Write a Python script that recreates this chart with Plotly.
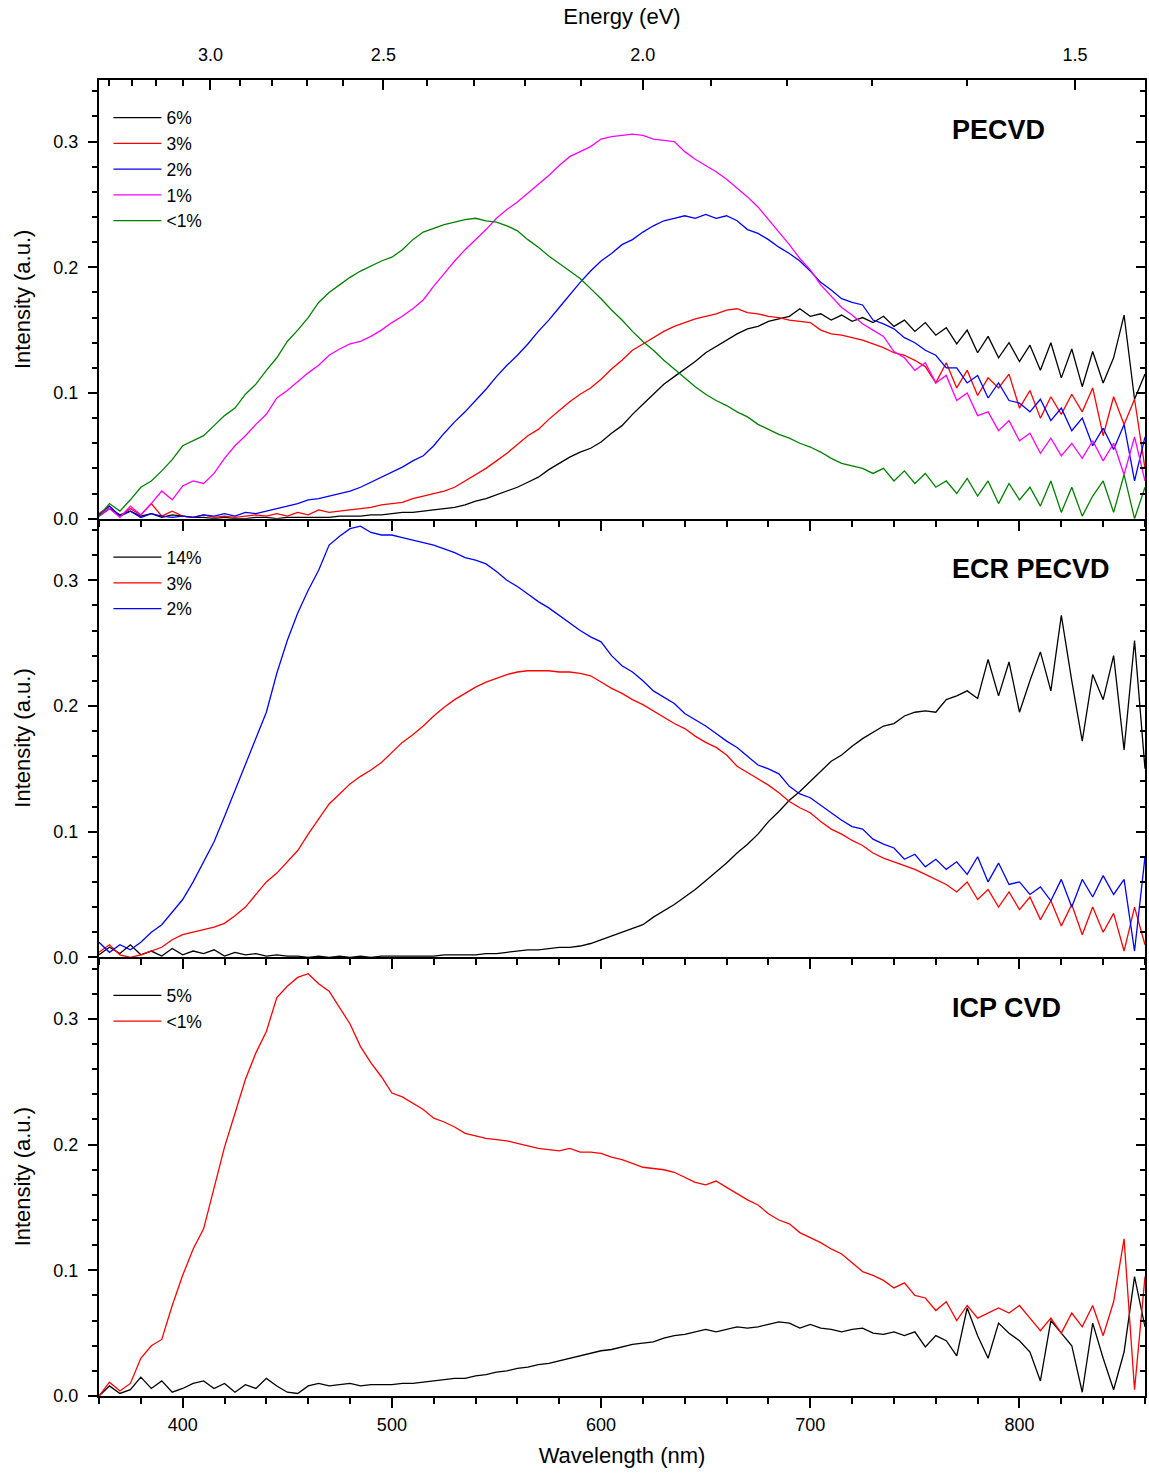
import plotly.graph_objects as go

# ---------------- data ----------------
WAVELENGTH = list(range(360, 865, 5))  # nm, sampling grid

# PECVD panel
PE_6 = [0.002,0.008,0.003,0.006,0.002,0.004,0.001,0.003,0.002,0.001,
        0.001,0.000,0.001,0.000,0.000,0.001,0.001,0.000,0.001,0.001,
        0.001,0.001,0.001,0.002,0.002,0.002,0.003,0.003,0.004,0.005,
        0.005,0.006,0.007,0.008,0.009,0.011,0.014,0.016,0.019,0.022,
        0.025,0.029,0.033,0.039,0.044,0.049,0.053,0.056,0.061,0.068,
        0.074,0.083,0.091,0.099,0.107,0.113,0.119,0.125,0.132,0.137,
        0.142,0.147,0.151,0.153,0.157,0.159,0.161,0.167,0.161,0.163,
        0.158,0.162,0.157,0.160,0.156,0.161,0.153,0.158,0.149,0.156,
        0.146,0.152,0.139,0.150,0.132,0.145,0.128,0.140,0.125,0.138,
        0.118,0.140,0.112,0.135,0.105,0.133,0.108,0.128,0.162,0.095,
        0.115]
PE_3 = [0.004,0.010,0.002,0.008,0.003,0.012,0.002,0.006,0.002,0.001,
        0.003,0.001,0.002,0.001,0.002,0.003,0.002,0.004,0.002,0.005,
        0.003,0.007,0.005,0.006,0.007,0.008,0.009,0.011,0.012,0.013,
        0.016,0.018,0.020,0.022,0.025,0.030,0.035,0.040,0.046,0.052,
        0.059,0.066,0.071,0.079,0.086,0.093,0.099,0.104,0.111,0.119,
        0.126,0.134,0.139,0.144,0.149,0.153,0.156,0.159,0.161,0.163,
        0.166,0.167,0.164,0.163,0.161,0.160,0.158,0.157,0.156,0.150,
        0.147,0.146,0.144,0.142,0.139,0.136,0.132,0.130,0.126,0.121,
        0.108,0.124,0.104,0.118,0.098,0.112,0.104,0.115,0.088,0.102,
        0.080,0.097,0.083,0.099,0.085,0.104,0.066,0.097,0.075,0.095,
        0.040]
PE_2 = [0.003,0.010,0.002,0.006,0.001,0.004,0.002,0.001,0.002,0.001,
        0.003,0.002,0.004,0.002,0.005,0.004,0.006,0.008,0.010,0.012,
        0.015,0.016,0.018,0.020,0.022,0.025,0.029,0.033,0.037,0.041,
        0.046,0.050,0.058,0.068,0.077,0.085,0.094,0.103,0.113,0.122,
        0.130,0.139,0.149,0.158,0.168,0.178,0.188,0.197,0.205,0.211,
        0.218,0.222,0.228,0.233,0.237,0.239,0.241,0.239,0.242,0.239,
        0.241,0.237,0.230,0.227,0.222,0.216,0.211,0.205,0.197,0.188,
        0.182,0.175,0.172,0.170,0.158,0.155,0.151,0.144,0.140,0.134,
        0.130,0.120,0.120,0.108,0.114,0.096,0.108,0.094,0.092,0.085,
        0.095,0.078,0.088,0.070,0.080,0.058,0.072,0.055,0.075,0.030,
        0.065]
PE_1 = [0.002,0.008,0.001,0.010,0.003,0.012,0.022,0.015,0.026,0.030,
        0.028,0.036,0.048,0.058,0.066,0.075,0.083,0.096,0.102,0.109,
        0.116,0.122,0.130,0.135,0.139,0.141,0.145,0.150,0.156,0.161,
        0.167,0.174,0.185,0.195,0.205,0.214,0.222,0.230,0.239,0.246,
        0.252,0.259,0.266,0.273,0.281,0.288,0.292,0.296,0.302,0.304,
        0.305,0.306,0.305,0.302,0.301,0.300,0.292,0.286,0.281,0.276,
        0.270,0.263,0.256,0.248,0.238,0.228,0.218,0.207,0.198,0.186,
        0.177,0.168,0.162,0.155,0.150,0.145,0.133,0.128,0.118,0.124,
        0.108,0.114,0.094,0.100,0.082,0.085,0.070,0.078,0.062,0.068,
        0.052,0.064,0.050,0.060,0.048,0.062,0.046,0.060,0.035,0.065,
        0.030]
PE_LT1 = [0.002,0.012,0.006,0.015,0.025,0.030,0.038,0.047,0.058,0.062,
          0.066,0.074,0.082,0.088,0.099,0.107,0.118,0.128,0.141,0.150,
          0.160,0.172,0.180,0.186,0.192,0.197,0.201,0.205,0.208,0.214,
          0.222,0.228,0.231,0.234,0.236,0.238,0.239,0.237,0.236,0.233,
          0.229,0.222,0.216,0.209,0.203,0.197,0.191,0.183,0.175,0.166,
          0.158,0.149,0.141,0.134,0.126,0.119,0.112,0.105,0.099,0.094,
          0.090,0.085,0.081,0.075,0.071,0.067,0.064,0.060,0.057,0.053,
          0.048,0.044,0.042,0.040,0.036,0.040,0.030,0.038,0.028,0.036,
          0.025,0.030,0.020,0.032,0.018,0.030,0.012,0.028,0.015,0.025,
          0.010,0.030,0.005,0.025,0.002,0.018,0.030,0.005,0.035,0.000,
          0.025]

# ECR PECVD panel
ECR_14 = [0.002,0.008,0.003,0.010,0.002,0.005,0.001,0.007,0.002,0.005,
          0.003,0.006,0.001,0.004,0.002,0.003,0.001,0.002,0.001,0.001,
          0.000,0.001,0.000,0.001,0.000,0.001,0.000,0.001,0.001,0.001,
          0.001,0.001,0.001,0.002,0.002,0.002,0.002,0.003,0.003,0.004,
          0.005,0.006,0.006,0.007,0.008,0.008,0.009,0.011,0.014,0.017,
          0.020,0.023,0.026,0.032,0.037,0.042,0.048,0.054,0.061,0.068,
          0.075,0.083,0.090,0.098,0.108,0.116,0.125,0.132,0.140,0.148,
          0.156,0.161,0.168,0.174,0.179,0.184,0.186,0.192,0.195,0.196,
          0.195,0.205,0.208,0.212,0.206,0.237,0.208,0.235,0.195,0.220,
          0.243,0.212,0.272,0.220,0.172,0.225,0.205,0.240,0.165,0.252,
          0.150]
ECR_3 = [0.004,0.010,0.002,0.000,0.002,0.005,0.008,0.014,0.018,0.020,
         0.022,0.024,0.027,0.033,0.040,0.050,0.060,0.067,0.076,0.085,
         0.098,0.110,0.122,0.130,0.138,0.144,0.149,0.155,0.163,0.171,
         0.177,0.184,0.192,0.199,0.205,0.210,0.215,0.219,0.222,0.225,
         0.227,0.228,0.228,0.228,0.227,0.227,0.226,0.224,0.219,0.214,
         0.210,0.205,0.201,0.196,0.191,0.186,0.182,0.176,0.171,0.167,
         0.161,0.152,0.147,0.142,0.137,0.131,0.124,0.119,0.115,0.108,
         0.102,0.098,0.093,0.089,0.083,0.079,0.076,0.073,0.070,0.066,
         0.062,0.058,0.052,0.060,0.046,0.054,0.040,0.052,0.038,0.048,
         0.030,0.045,0.025,0.042,0.018,0.040,0.020,0.035,0.005,0.040,
         0.010]
ECR_2 = [0.012,0.004,0.010,0.006,0.012,0.020,0.026,0.036,0.046,0.060,
         0.076,0.092,0.112,0.133,0.154,0.174,0.195,0.226,0.252,0.274,
         0.292,0.308,0.328,0.335,0.341,0.343,0.338,0.336,0.336,0.334,
         0.332,0.330,0.328,0.325,0.322,0.318,0.316,0.313,0.307,0.300,
         0.295,0.289,0.283,0.278,0.272,0.266,0.260,0.255,0.251,0.240,
         0.232,0.227,0.220,0.212,0.207,0.202,0.194,0.189,0.184,0.178,
         0.172,0.167,0.160,0.153,0.150,0.146,0.136,0.130,0.127,0.121,
         0.115,0.109,0.104,0.102,0.094,0.090,0.087,0.078,0.082,0.072,
         0.078,0.070,0.076,0.066,0.080,0.060,0.075,0.058,0.060,0.050,
         0.056,0.045,0.062,0.040,0.062,0.048,0.065,0.050,0.062,0.005,
         0.080]

# ICP CVD panel
ICP_5 = [0.000,0.008,0.002,0.005,0.015,0.006,0.012,0.003,0.006,0.010,
         0.012,0.006,0.010,0.003,0.009,0.006,0.014,0.008,0.003,0.002,
         0.008,0.010,0.008,0.009,0.010,0.008,0.009,0.009,0.009,0.010,
         0.010,0.011,0.012,0.013,0.014,0.014,0.016,0.017,0.019,0.020,
         0.022,0.023,0.025,0.026,0.028,0.030,0.032,0.034,0.036,0.037,
         0.039,0.041,0.042,0.043,0.046,0.048,0.049,0.051,0.053,0.051,
         0.053,0.055,0.054,0.055,0.057,0.059,0.058,0.054,0.057,0.054,
         0.053,0.051,0.053,0.054,0.050,0.049,0.051,0.048,0.051,0.039,
         0.048,0.044,0.032,0.070,0.048,0.030,0.058,0.050,0.044,0.035,
         0.012,0.060,0.050,0.040,0.003,0.058,0.030,0.005,0.035,0.095,
         0.055]
ICP_LT1 = [0.000,0.011,0.004,0.010,0.030,0.040,0.045,0.072,0.096,0.117,
           0.133,0.165,0.198,0.225,0.252,0.273,0.290,0.317,0.326,0.333,
           0.336,0.328,0.322,0.309,0.296,0.278,0.265,0.254,0.241,0.238,
           0.233,0.228,0.221,0.218,0.214,0.209,0.207,0.205,0.204,0.203,
           0.201,0.199,0.197,0.196,0.195,0.197,0.194,0.194,0.193,0.190,
           0.188,0.185,0.182,0.181,0.180,0.178,0.174,0.170,0.168,0.171,
           0.166,0.161,0.156,0.152,0.145,0.140,0.137,0.130,0.126,0.122,
           0.117,0.113,0.106,0.099,0.096,0.092,0.086,0.090,0.080,0.078,
           0.068,0.075,0.060,0.072,0.062,0.066,0.070,0.066,0.072,0.062,
           0.052,0.062,0.050,0.066,0.055,0.072,0.048,0.075,0.125,0.005,
           0.095]

PANEL_TITLES = ["PECVD", "ECR PECVD", "ICP CVD"]
PANEL_SERIES = [
    [("6%", PE_6, "#000000"), ("3%", PE_3, "#FF0000"), ("2%", PE_2, "#0000FF"),
     ("1%", PE_1, "#FF00FF"), ("<1%", PE_LT1, "#008000")],
    [("14%", ECR_14, "#000000"), ("3%", ECR_3, "#FF0000"), ("2%", ECR_2, "#0000FF")],
    [("5%", ICP_5, "#000000"), ("<1%", ICP_LT1, "#FF0000")],
]

ENERGY_MAJOR = [3.0, 2.5, 2.0, 1.5]
ENERGY_MAJOR_TEXT = ["3.0", "2.5", "2.0", "1.5"]
ENERGY_MINOR = [3.4, 3.3, 3.2, 3.1, 2.9, 2.8, 2.7, 2.6, 2.4, 2.3, 2.2, 2.1,
                1.9, 1.8, 1.7, 1.6]
HC = 1239.84  # eV*nm

X_RANGE = [360, 860]
Y_RANGE = [0, 0.349]
Y_TICKS = [0.0, 0.1, 0.2, 0.3]

# ---------------- figure ----------------
FONT = "Arial, 'Liberation Sans', sans-serif"
W, H = 1149, 1476
ML, MR, MT, MB = 99, 2, 80, 80
plot_h = H - MT - MB
domains = [[2/3, 1.0], [1/3, 2/3], [0.0, 1/3]]
LW = 2

fig = go.Figure()
legend_names = ["legend", "legend2", "legend3"]
for i, series in enumerate(PANEL_SERIES):
    xa = "x" if i == 0 else f"x{i+1}"
    ya = "y" if i == 0 else f"y{i+1}"
    for name, vals, color in series:
        fig.add_trace(go.Scatter(
            x=WAVELENGTH, y=vals, mode="lines", name=name,
            line=dict(color=color, width=1.3),
            xaxis=xa, yaxis=ya, legend=legend_names[i]))

# helper traces so that overlay axes (energy top axis, right tick axes) exist
fig.add_trace(go.Scatter(x=[None], y=[None], xaxis="x4", yaxis="y",
                         showlegend=False, hoverinfo="skip"))
for i in range(3):
    xa = "x" if i == 0 else f"x{i+1}"
    fig.add_trace(go.Scatter(x=[None], y=[None], xaxis=xa, yaxis=f"y{i+4}",
                             showlegend=False, hoverinfo="skip"))

axis_font = dict(family=FONT, size=18, color="black")
title_font = dict(family=FONT, size=22, color="black")

layout = dict(
    width=W, height=H,
    margin=dict(l=ML, r=MR, t=MT, b=MB),
    paper_bgcolor="white", plot_bgcolor="white",
    font=dict(family=FONT, color="black"),
)

for i in range(3):
    xkey = "xaxis" if i == 0 else f"xaxis{i+1}"
    ykey = "yaxis" if i == 0 else f"yaxis{i+1}"
    yname = "y" if i == 0 else f"y{i+1}"
    xname = "x" if i == 0 else f"x{i+1}"
    last = (i == 2)
    layout[xkey] = dict(
        domain=[0, 1], anchor=yname, range=X_RANGE,
        tickmode="linear", tick0=0, dtick=100,
        ticks="outside", ticklen=10, tickwidth=1.5, tickcolor="black",
        minor=dict(dtick=20, tick0=0, ticks="outside", ticklen=6,
                   tickwidth=1.5, tickcolor="black"),
        showline=True, linecolor="black", linewidth=LW, mirror=False,
        showgrid=False, zeroline=False,
        showticklabels=last, tickfont=axis_font, ticklabelstandoff=1,
        title=dict(text="Wavelength (nm)" if last else "", font=title_font,
                   standoff=14),
    )
    layout[ykey] = dict(
        domain=domains[i], anchor=xname, range=Y_RANGE,
        tickmode="array", tickvals=Y_TICKS, tickformat=".1f",
        ticks="outside", ticklen=9, tickwidth=1.5, tickcolor="black",
        minor=dict(tickmode="linear", tick0=0, dtick=0.02, ticks="outside",
                   ticklen=5, tickwidth=1.5, tickcolor="black"),
        showline=True, linecolor="black", linewidth=LW, mirror=True,
        showgrid=False, zeroline=False,
        tickfont=axis_font, ticklabelstandoff=6,
        title=dict(text="Intensity (a.u.)", font=title_font, standoff=17),
    )
    # right-hand axis with inward ticks
    layout[f"yaxis{i+4}"] = dict(
        overlaying=yname, side="right", anchor=xname, range=Y_RANGE,
        tickmode="array", tickvals=Y_TICKS,
        ticks="inside", ticklen=9, tickwidth=1.5, tickcolor="black",
        minor=dict(tickmode="linear", tick0=0, dtick=0.02, ticks="inside",
                   ticklen=5, tickwidth=1.5, tickcolor="black"),
        showticklabels=False, showline=False, showgrid=False, zeroline=False,
    )

# top energy axis
layout["xaxis4"] = dict(
    overlaying="x", side="top", anchor="y", range=X_RANGE,
    tickmode="array", tickvals=[HC / e for e in ENERGY_MAJOR],
    ticktext=ENERGY_MAJOR_TEXT,
    ticks="inside", ticklen=10, tickwidth=1.5, tickcolor="black",
    minor=dict(tickmode="array", tickvals=[HC / e for e in ENERGY_MINOR],
               ticks="inside", ticklen=6, tickwidth=1.5, tickcolor="black"),
    showline=True, linecolor="black", linewidth=LW,
    showgrid=False, zeroline=False,
    tickfont=axis_font, ticklabelstandoff=10,
    title=dict(text="Energy (eV)", font=title_font, standoff=14),
)

# legends, one per panel
legend_tops = [0.985, 0.651, 0.318]
for i, lname in enumerate(legend_names):
    layout[lname] = dict(
        x=0.009, y=legend_tops[i], xanchor="left", yanchor="top",
        bgcolor="rgba(0,0,0,0)", borderwidth=0,
        font=dict(family=FONT, size=17.5, color="black"),
        itemwidth=48, tracegroupgap=0,
    )

fig.update_layout(**layout)

# panel labels
label_y = [(H - MB - 130) / plot_h, (H - MB - 569) / plot_h, (H - MB - 1008) / plot_h]
for i, txt in enumerate(PANEL_TITLES):
    fig.add_annotation(
        text=f"<b>{txt}</b>", xref="paper", yref="paper",
        x=(952 - ML) / (W - ML - MR), y=label_y[i],
        xanchor="left", yanchor="middle", showarrow=False,
        font=dict(family=FONT, size=27, color="black"))

fig.write_html(
    "out.html",
    config={"displayModeBar": False},
    post_script="document.body.style.margin='0';"
                "document.body.style.overflow='hidden';")
